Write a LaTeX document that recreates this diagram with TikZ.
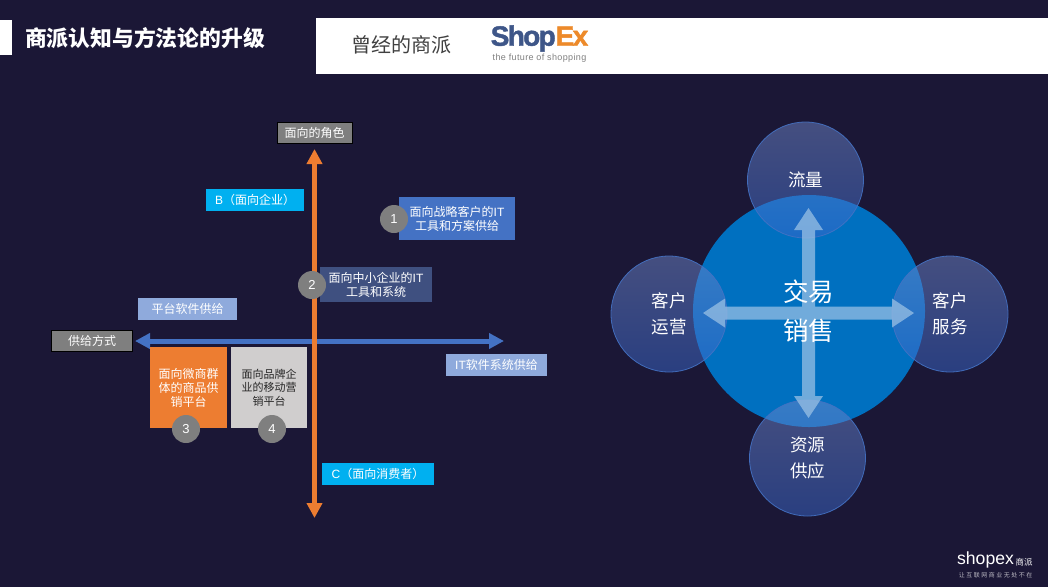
\documentclass[tikz,border=0pt]{standalone}
\usepackage{fontspec}
\usetikzlibrary{arrows.meta}
\newfontfamily\cjk{Noto Sans CJK SC}
\setmainfont{Liberation Sans}
\newfontfamily\logofont[LetterSpace=-6,FakeBold=1.5]{Liberation Sans Bold}
\newcommand{\lat}[1]{{\rmfamily #1}}
\definecolor{bgc}{HTML}{1B1736}
\definecolor{axo}{HTML}{ED7D31}
\definecolor{axb}{HTML}{4472C4}
\definecolor{cyanb}{HTML}{00B0F0}
\definecolor{paleb}{HTML}{8FAADC}
\definecolor{greyb}{HTML}{7F7F7F}
\definecolor{navyb}{HTML}{3F5080}
\definecolor{lightg}{HTML}{D0CECE}
\definecolor{bigc}{HTML}{0070C0}
\definecolor{crossc}{HTML}{9DC3E6}
\definecolor{sattop}{RGB}{111,135,202}
\definecolor{satbot}{RGB}{57,103,202}
\definecolor{logob}{HTML}{3E5688}
\definecolor{logoo}{HTML}{ED8A2A}
\tikzset{
  x=1pt,y=-1pt,
  lbl/.style={rectangle,inner sep=0pt,outer sep=0pt,align=center,text=white,
    font=\fontsize{12}{14}\selectfont\cjk},
  titlebox/.style={lbl,draw=black,line width=0.8pt,fill=greyb,minimum width=75pt,minimum height=21pt},
  tagbox/.style={lbl,minimum height=22pt},
  numdot/.style={circle,fill=greyb,inner sep=0pt,outer sep=0pt,minimum size=28pt,text=white,
    font=\fontsize{13}{15}\selectfont},
  sat/.style={circle,inner sep=0pt,outer sep=0pt,minimum size=116pt,align=center,
    top color=sattop,bottom color=satbot,fill opacity=.5,text opacity=1,draw=axb,draw opacity=.9,line width=.8pt,
    text=white,font=\fontsize{17.5}{26}\selectfont\cjk},
  axis/.style={line width=5pt,{Triangle[length=15pt,width=15pt]}-{Triangle[length=15pt,width=15pt]}},
}
\begin{document}
\begin{tikzpicture}
\useasboundingbox (0,0) rectangle (1048,587);
\fill[bgc] (0,0) rectangle (1048,587);
% header
\fill[white] (0,20) rectangle (12,55);
\fill[white] (316,18) rectangle (1048,74);
\node[lbl,font=\fontsize{21.8}{24}\selectfont\cjk\bfseries] (title) at (145,38.5) {商派认知与方法论的升级};
\node[lbl,text=black!75,font=\fontsize{20}{24}\selectfont\cjk] (was) at (401.5,45) {曾经的商派};
\node[lbl,font=\fontsize{28}{30}\selectfont\logofont] (logo) at (539.5,38.5) {\textcolor{logob}{Shop}\textcolor{logoo}{Ex}};
\node[lbl,text=black!50,font=\fontsize{9}{10}\selectfont] (slogan) at (539.5,58.5) {\addfontfeature{LetterSpace=4}the future of shopping};
% axes
\coordinate (wEnd) at (135,341);
\coordinate (eEnd) at (504,341);
\coordinate (nEnd) at (314.5,149);
\coordinate (sEnd) at (314.5,518);
\draw[axis,axb] (wEnd) -- (eEnd);
\draw[axis,axo] (nEnd) -- (sEnd);
% axis captions
\node[titlebox] (role) at (314.5,132.5) {面向的角色};
\node[titlebox,minimum width=81pt] (supply) at (92,341) {供给方式};
\node[tagbox,fill=cyanb,minimum width=98pt] (bside) at (255,200) {\lat{B}（面向企业）};
\node[tagbox,fill=cyanb,minimum width=112pt] (cside) at (378,474) {\lat{C}（面向消费者）};
\node[tagbox,fill=paleb,minimum width=99pt] (plat) at (187.5,309) {平台软件供给};
\node[tagbox,fill=paleb,minimum width=101pt] (itsup) at (496.5,365) {\lat{IT}软件系统供给};
% quadrant boxes
\node[lbl,fill=axb,minimum width=116pt,minimum height=43pt] (q1) at (457,218.5) {面向战略客户的\lat{IT}\\工具和方案供给};
\node[lbl,fill=navyb,minimum width=112pt,minimum height=35pt] (q2) at (376,284.5) {面向中小企业的\lat{IT}\\工具和系统};
\node[lbl,fill=axo,minimum width=77pt,minimum height=81pt] (q3) at (188.5,387.5) {面向微商群\\体的商品供\\销平台};
\node[lbl,fill=lightg,text=black!85,minimum width=76pt,minimum height=81pt,font=\fontsize{11}{13.5}\selectfont\cjk] (q4) at (269,387.5) {面向品牌企\\业的移动营\\销平台};
\node[numdot] (n1) at (394,219) {1};
\node[numdot] (n2) at (312,285) {2};
\node[numdot] (n3) at (186,429) {3};
\node[numdot] (n4) at (272,429) {4};
% right cluster
\node[circle,fill=bigc,inner sep=0pt,outer sep=0pt,minimum size=232pt] (core) at (809,311) {};
\node[sat] (flow) at (805.5,180) {流量};
\node[sat] (ops) at (669,314) {客户\\运营};
\node[sat] (svc) at (950,314) {客户\\服务};
\node[sat] (res) at (807.5,458) {资源\\供应};
\fill[crossc,fill opacity=.72,shift={(808.5,313)}]
 (0,-105)--(14.5,-83)--(6.5,-83)--(6.5,-6.5)--(83.5,-6.5)--(83.5,-14.5)--(105.5,0)--(83.5,14.5)--(83.5,6.5)--(6.5,6.5)--(6.5,83)--(14.5,83)--(0,105)--(-14.5,83)--(-6.5,83)--(-6.5,6.5)--(-83.5,6.5)--(-83.5,14.5)--(-105.5,0)--(-83.5,-14.5)--(-83.5,-6.5)--(-6.5,-6.5)--(-6.5,-83)--(-14.5,-83)--cycle;
\node[lbl,font=\fontsize{25.5}{39}\selectfont\cjk] (coretxt) at (808.5,311.5) {交易\\销售};
% footer logo
\node[lbl,font=\fontsize{17.6}{20}\selectfont] (flogo) at (985.5,560) {shopex};
\node[lbl,font=\fontsize{8.5}{10}\selectfont\cjk] (flogo2) at (1024,562) {商派};
\node[lbl,text=white!70!bgc,font=\fontsize{6}{7}\selectfont\cjk] (fslogan) at (995.5,575) {\addfontfeature{LetterSpace=25}让互联网商业无处不在};
\end{tikzpicture}
\end{document}
